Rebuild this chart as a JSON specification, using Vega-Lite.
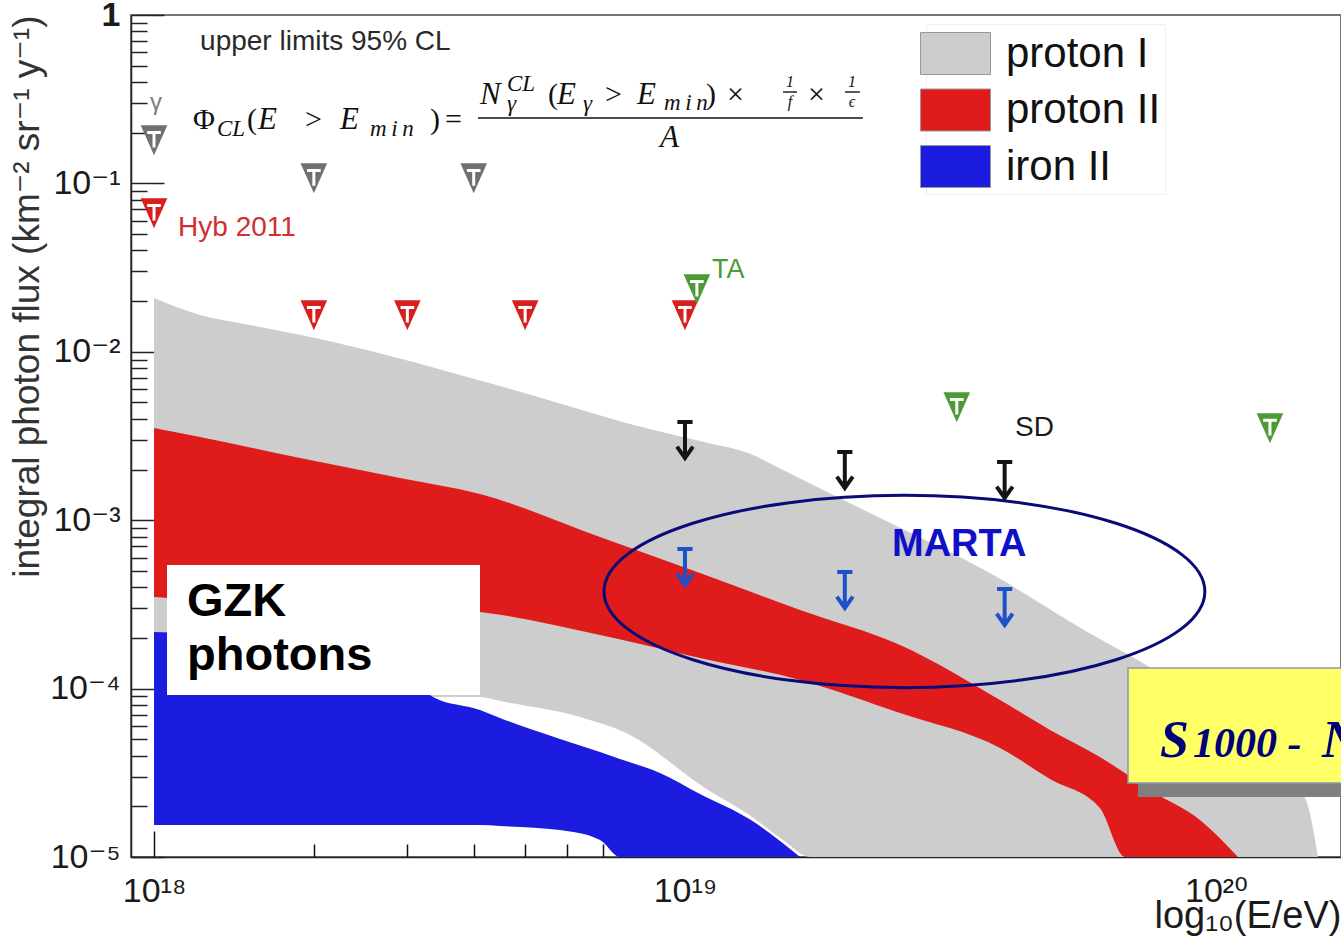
{
  "$schema": "https://vega.github.io/schema/vega-lite/v6.json",
  "width": 1210,
  "height": 842,
  "autosize": {"type": "none"},
  "padding": {"left": 131, "top": 15, "right": 0, "bottom": 95},
  "background": "white",
  "config": {
    "view": {"stroke": "#777777", "strokeWidth": 2},
    "font": "Liberation Sans"
  },
  "datasets": {
    "bands": [
      {"band": "proton I", "E": 1.0e18, "F": 0.02087, "F2": 8.91e-5},
      {"band": "proton I", "E": 1.221e18, "F": 0.01654, "F2": 8.91e-5},
      {"band": "proton I", "E": 1.516e18, "F": 0.01442, "F2": 8.91e-5},
      {"band": "proton I", "E": 2.174e18, "F": 0.01143, "F2": 8.91e-5},
      {"band": "proton I", "E": 3.128e18, "F": 0.00858, "F2": 8.91e-5},
      {"band": "proton I", "E": 4.111e18, "F": 0.00675, "F2": 8.91e-5},
      {"band": "proton I", "E": 4.483e18, "F": 0.00626, "F2": 8.44e-5},
      {"band": "proton I", "E": 6.344e18, "F": 0.004544, "F2": 6.78e-5},
      {"band": "proton I", "E": 7.743e18, "F": 0.003777, "F2": 5.45e-5},
      {"band": "proton I", "E": 1.105e19, "F": 0.002873, "F2": 2.5e-5},
      {"band": "proton I", "E": 1.314e19, "F": 0.002506, "F2": 1.8e-5},
      {"band": "proton I", "E": 1.53e19, "F": 0.001986, "F2": 1.26e-5},
      {"band": "proton I", "E": 1.72e19, "F": 0.001651, "F2": 1.0e-5},
      {"band": "proton I", "E": 2.23e19, "F": 0.001104, "F2": 1.0e-5},
      {"band": "proton I", "E": 3.869e19, "F": 0.00046, "F2": 1.0e-5},
      {"band": "proton I", "E": 5.641e19, "F": 0.000223, "F2": 1.0e-5},
      {"band": "proton I", "E": 7.383e19, "F": 0.000138, "F2": 1.0e-5},
      {"band": "proton I", "E": 1.159e20, "F": 4.95e-5, "F2": 1.0e-5},
      {"band": "proton I", "E": 1.477e20, "F": 2.18e-5, "F2": 1.0e-5},
      {"band": "proton I", "E": 1.556e20, "F": 1.0e-5, "F2": 1.0e-5},
      {"band": "proton II", "E": 1.0e18, "F": 3.528e-3, "F2": 3.499e-4},
      {"band": "proton II", "E": 1.221e18, "F": 3.12e-3, "F2": 3.358e-4},
      {"band": "proton II", "E": 1.884e18, "F": 2.341e-3, "F2": 3.223e-4},
      {"band": "proton II", "E": 2.906e18, "F": 1.78e-3, "F2": 3.051e-4},
      {"band": "proton II", "E": 4.111e18, "F": 1.43e-3, "F2": 2.85e-4},
      {"band": "proton II", "E": 6.918e18, "F": 7.948e-4, "F2": 2.081e-4},
      {"band": "proton II", "E": 1.067e19, "F": 4.859e-4, "F2": 1.52e-4},
      {"band": "proton II", "E": 1.647e19, "F": 2.929e-4, "F2": 1.125e-4},
      {"band": "proton II", "E": 2.541e19, "F": 1.815e-4, "F2": 7.16e-5},
      {"band": "proton II", "E": 3.92e19, "F": 8.56e-5, "F2": 4.44e-5},
      {"band": "proton II", "E": 4.869e19, "F": 5.68e-5, "F2": 2.905e-5},
      {"band": "proton II", "E": 6.045e19, "F": 3.925e-5, "F2": 1.954e-5},
      {"band": "proton II", "E": 6.74e19, "F": 3.153e-5, "F2": 1.0e-5},
      {"band": "proton II", "E": 7.512e19, "F": 2.5e-5, "F2": 1.0e-5},
      {"band": "proton II", "E": 9.331e19, "F": 1.658e-5, "F2": 1.0e-5},
      {"band": "proton II", "E": 1.1e20, "F": 1.0e-5, "F2": 1.0e-5},
      {"band": "iron II", "E": 1.0e18, "F": 2.168e-4, "F2": 1.549e-5},
      {"band": "iron II", "E": 1.221e18, "F": 2.11e-4, "F2": 1.549e-5},
      {"band": "iron II", "E": 1.884e18, "F": 1.815e-4, "F2": 1.549e-5},
      {"band": "iron II", "E": 2.906e18, "F": 1.326e-4, "F2": 1.549e-5},
      {"band": "iron II", "E": 3.353e18, "F": 8.91e-5, "F2": 1.549e-5},
      {"band": "iron II", "E": 4.111e18, "F": 7.46e-5, "F2": 1.549e-5},
      {"band": "iron II", "E": 4.483e18, "F": 6.69e-5, "F2": 1.528e-5},
      {"band": "iron II", "E": 5.815e18, "F": 5.02e-5, "F2": 1.446e-5},
      {"band": "iron II", "E": 6.918e18, "F": 4.2e-5, "F2": 1.262e-5},
      {"band": "iron II", "E": 7.543e18, "F": 3.82e-5, "F2": 1.0e-5},
      {"band": "iron II", "E": 8.972e18, "F": 3.153e-5, "F2": 1.0e-5},
      {"band": "iron II", "E": 1.067e19, "F": 2.366e-5, "F2": 1.0e-5},
      {"band": "iron II", "E": 1.331e19, "F": 1.658e-5, "F2": 1.0e-5},
      {"band": "iron II", "E": 1.647e19, "F": 1.0e-5, "F2": 1.0e-5}
    ],
    "limits": [
      {"set": "gray", "kind": "tri", "E": 1.0e18, "F": 0.181},
      {"set": "gray", "kind": "tri", "E": 2.0e18, "F": 0.1076},
      {"set": "gray", "kind": "tri", "E": 4.0e18, "F": 0.1076},
      {"set": "red", "kind": "tri", "E": 1.0e18, "F": 0.0667},
      {"set": "red", "kind": "tri", "E": 2.0e18, "F": 0.01654},
      {"set": "red", "kind": "tri", "E": 3.0e18, "F": 0.01654},
      {"set": "red", "kind": "tri", "E": 5.0e18, "F": 0.01654},
      {"set": "red", "kind": "tri", "E": 1.0e19, "F": 0.01654},
      {"set": "green", "kind": "tri", "E": 1.053e19, "F": 0.0236},
      {"set": "green", "kind": "tri", "E": 3.25e19, "F": 0.0047},
      {"set": "green", "kind": "tri", "E": 1.264e20, "F": 0.00353},
      {"set": "black", "kind": "arrow", "E": 1.0e19, "F": 0.002995},
      {"set": "black", "kind": "arrow", "E": 2.0e19, "F": 0.001986},
      {"set": "black", "kind": "arrow", "E": 4.0e19, "F": 0.001733},
      {"set": "blue", "kind": "arrow", "E": 1.0e19, "F": 0.000527},
      {"set": "blue", "kind": "arrow", "E": 2.0e19, "F": 0.000385},
      {"set": "blue", "kind": "arrow", "E": 4.0e19, "F": 0.000305}
    ]
  },
  "encoding": {
    "x": {
      "field": "E",
      "type": "quantitative",
      "scale": {"type": "log", "domain": [9.05e17, 1.72e20], "nice": false, "zero": false},
      "axis": {
        "values": [1e18, 2e18, 3e18, 4e18, 5e18, 6e18, 7e18, 8e18, 9e18, 1e19, 2e19, 3e19, 4e19, 5e19, 6e19, 7e19, 8e19, 9e19, 1e20],
        "labelExpr": "abs(log(datum.value)/LN10 - round(log(datum.value)/LN10)) < 0.001 ? (round(log(datum.value)/LN10) == 18 ? '10¹⁸' : round(log(datum.value)/LN10) == 19 ? '10¹⁹' : '10²⁰') : ''",
        "tickSize": {"condition": {"test": "abs(log(datum.value)/LN10 - round(log(datum.value)/LN10)) < 0.001", "value": -26}, "value": -13},
        "tickColor": "#111111",
        "tickWidth": 1.5,
        "domainColor": "#222222",
        "domainWidth": 1.5,
        "labelFontSize": 34,
        "labelPadding": 43,
        "labelColor": "#1a1a1a",
        "labelFont": "Liberation Sans, DejaVu Sans",
        "labelOverlap": false,
        "labelFlush": false,
        "grid": false,
        "title": "log₁₀(E/eV)",
        "titleAnchor": "end",
        "titleFont": "Liberation Sans, DejaVu Sans",
        "titleFontSize": 38,
        "titleFontWeight": "normal",
        "titleColor": "#1a1a1a",
        "titlePadding": -24
      }
    },
    "y": {
      "field": "F",
      "type": "quantitative",
      "scale": {"type": "log", "domain": [1e-5, 1], "nice": false},
      "axis": {
        "values": [1e-5, 2e-5, 3e-5, 4e-5, 5e-5, 6e-5, 7e-5, 8e-5, 9e-5, 0.0001, 0.0002, 0.0003, 0.0004, 0.0005, 0.0006, 0.0007, 0.0008, 0.0009, 0.001, 0.002, 0.003, 0.004, 0.005, 0.006, 0.007, 0.008, 0.009, 0.01, 0.02, 0.03, 0.04, 0.05, 0.06, 0.07, 0.08, 0.09, 0.1, 0.2, 0.3, 0.4, 0.5, 0.6, 0.7, 0.8, 0.9, 1],
        "labelExpr": "abs(log(datum.value)/LN10 - round(log(datum.value)/LN10)) < 0.001 ? (round(log(datum.value)/LN10) == 0 ? '1' : round(log(datum.value)/LN10) == -1 ? '10⁻¹' : round(log(datum.value)/LN10) == -2 ? '10⁻²' : round(log(datum.value)/LN10) == -3 ? '10⁻³' : round(log(datum.value)/LN10) == -4 ? '10⁻⁴' : '10⁻⁵') : ''",
        "tickSize": {"condition": {"test": "abs(log(datum.value)/LN10 - round(log(datum.value)/LN10)) < 0.001", "value": -33}, "value": -16},
        "tickColor": "#222222",
        "tickWidth": 1.5,
        "domainColor": "#222222",
        "domainWidth": 1.5,
        "labelFontSize": 34,
        "labelPadding": 44,
        "labelColor": "#1a1a1a",
        "labelFont": "Liberation Sans, DejaVu Sans",
        "labelFontWeight": {"condition": {"test": "datum.value == 1", "value": "bold"}, "value": "normal"},
        "labelOverlap": false,
        "labelFlush": false,
        "grid": false,
        "title": "integral photon flux (km⁻² sr⁻¹ y⁻¹)",
        "titleAnchor": "end",
        "titleFont": "Liberation Sans, DejaVu Sans",
        "titleFontSize": 37,
        "titleFontWeight": "normal",
        "titleColor": "#333333",
        "titlePadding": 3
      }
    }
  },
  "layer": [
    {
      "data": {"name": "bands"},
      "transform": [{"filter": "datum.band == 'proton I'"}],
      "mark": {"type": "area", "clip": true, "opacity": 1, "interpolate": "monotone"},
      "encoding": {
        "y2": {"field": "F2"},
        "color": {
          "field": "band", "type": "nominal",
          "scale": {"domain": ["proton I", "proton II", "iron II"], "range": ["#cdcdcd", "#e01b1b", "#1c1ce0"]},
          "legend": {"title": null, "orient": "none", "legendX": 795, "legendY": 9, "symbolType": "M-1.4,-0.84H1.4V0.84H-1.4Z", "symbolSize": 2500, "labelFontSize": 42, "labelFont": "Liberation Sans", "labelColor": "#111111", "rowPadding": 7.5, "padding": 4, "fillColor": "#ffffff", "strokeColor": "#f0f0f0", "labelOffset": 25, "symbolStrokeWidth": 1, "symbolStrokeColor": "#999999", "symbolOpacity": 1, "labelLimit": 400}
        }
      }
    },
    {
      "data": {"name": "bands"},
      "transform": [{"filter": "datum.band == 'proton II'"}],
      "mark": {"type": "area", "clip": true, "opacity": 1, "interpolate": "monotone"},
      "encoding": {
        "y2": {"field": "F2"},
        "color": {
          "field": "band", "type": "nominal",
          "scale": {"domain": ["proton I", "proton II", "iron II"], "range": ["#cdcdcd", "#e01b1b", "#1c1ce0"]},
          "legend": {"title": null, "orient": "none", "legendX": 795, "legendY": 9, "symbolType": "M-1.4,-0.84H1.4V0.84H-1.4Z", "symbolSize": 2500, "labelFontSize": 42, "labelFont": "Liberation Sans", "labelColor": "#111111", "rowPadding": 7.5, "padding": 4, "fillColor": "#ffffff", "strokeColor": "#f0f0f0", "labelOffset": 25, "symbolStrokeWidth": 1, "symbolStrokeColor": "#999999", "symbolOpacity": 1, "labelLimit": 400}
        }
      }
    },
    {
      "data": {"name": "bands"},
      "transform": [{"filter": "datum.band == 'iron II'"}],
      "mark": {"type": "area", "clip": true, "opacity": 1, "interpolate": "monotone"},
      "encoding": {
        "y2": {"field": "F2"},
        "color": {
          "field": "band", "type": "nominal",
          "scale": {"domain": ["proton I", "proton II", "iron II"], "range": ["#cdcdcd", "#e01b1b", "#1c1ce0"]},
          "legend": {"title": null, "orient": "none", "legendX": 795, "legendY": 9, "symbolType": "M-1.4,-0.84H1.4V0.84H-1.4Z", "symbolSize": 2500, "labelFontSize": 42, "labelFont": "Liberation Sans", "labelColor": "#111111", "rowPadding": 7.5, "padding": 4, "fillColor": "#ffffff", "strokeColor": "#f0f0f0", "labelOffset": 25, "symbolStrokeWidth": 1, "symbolStrokeColor": "#999999", "symbolOpacity": 1, "labelLimit": 400}
        }
      }
    },
    {
      "data": {"values": [{"E": 1.058e18, "E2": 4.111e18, "F": 5.42e-4, "F2": 9.16e-5}]},
      "mark": {"type": "rect", "fill": "#ffffff", "clip": true},
      "encoding": {"x2": {"field": "E2"}, "y2": {"field": "F2"}}
    },
    {
      "data": {"values": [{"E": 7.13e19, "E2": 3e20, "F": 1.0e-4, "F2": 2.27e-5}]},
      "mark": {"type": "rect", "fill": "#808080", "clip": true},
      "encoding": {"x2": {"field": "E2"}, "y2": {"field": "F2"}}
    },
    {
      "data": {"values": [{"E": 6.829e19, "E2": 3e20, "F": 1.325e-4, "F2": 2.75e-5}]},
      "mark": {"type": "rect", "fill": "#ffff66", "stroke": "#8899aa", "strokeWidth": 1.5, "clip": true},
      "encoding": {"x2": {"field": "E2"}, "y2": {"field": "F2"}}
    },
    {
      "data": {"values": [{"E": 2.59e19, "F": 3.772e-4}]},
      "mark": {"type": "point", "shape": "M-1,0A1,0.32,0,1,0,1,0A1,0.32,0,1,0,-1,0Z", "size": 361000, "filled": false, "stroke": "#0a0a78", "strokeWidth": 3, "opacity": 1}
    },
    {
      "data": {"name": "limits"},
      "transform": [{"filter": "datum.kind == 'tri'"}],
      "mark": {"type": "point", "filled": true, "shape": "M-0.7,-0.78L0.7,-0.78L0,0.8Z", "size": 1444, "opacity": 1, "strokeWidth": 0},
      "encoding": {
        "fill": {"field": "set", "type": "nominal", "scale": {"domain": ["gray", "red", "green"], "range": ["#707070", "#d71f1f", "#4c9b35"]}, "legend": null}
      }
    },
    {
      "data": {"name": "limits"},
      "transform": [{"filter": "datum.kind == 'tri'"}],
      "mark": {"type": "point", "filled": false, "shape": "M-0.36,-0.4L0.36,-0.4 M0,-0.4L0,0.4", "size": 1444, "opacity": 1, "stroke": "#ffffff", "strokeWidth": 3}
    },
    {
      "data": {"name": "limits"},
      "transform": [{"filter": "datum.kind == 'arrow'"}],
      "mark": {"type": "point", "filled": false, "shape": "M-0.4,-0.95L0.4,-0.95 M0,-0.95L0,0.95 M-0.42,0.35L0,0.95L0.42,0.35", "size": 1444, "opacity": 1, "strokeWidth": 4},
      "encoding": {
        "stroke": {"field": "set", "type": "nominal", "scale": {"domain": ["black", "blue"], "range": ["#151515", "#1f50cc"]}, "legend": null}
      }
    },
    {
      "data": {"values": [{"t": "upper limits 95% CL", "E": 1.221e18, "F": 0.691}]},
      "mark": {"type": "text", "align": "left", "baseline": "middle", "fontSize": 28, "font": "Liberation Sans", "color": "#2a2a2a"},
      "encoding": {"text": {"field": "t"}}
    },
    {
      "data": {"values": [{"t": "Hyb 2011", "E": 1.11e18, "F": 0.0543}]},
      "mark": {"type": "text", "align": "left", "baseline": "middle", "fontSize": 28, "font": "Liberation Sans", "color": "#d03030"},
      "encoding": {"text": {"field": "t"}}
    },
    {
      "data": {"values": [{"t": "TA", "E": 1.124e19, "F": 0.0306}]},
      "mark": {"type": "text", "align": "left", "baseline": "middle", "fontSize": 27, "font": "Liberation Sans", "color": "#4c9b35"},
      "encoding": {"text": {"field": "t"}}
    },
    {
      "data": {"values": [{"t": "SD", "E": 4.183e19, "F": 0.00353}]},
      "mark": {"type": "text", "align": "left", "baseline": "middle", "fontSize": 28, "font": "Liberation Sans", "color": "#1a1a1a"},
      "encoding": {"text": {"field": "t"}}
    },
    {
      "data": {"values": [{"t": "γ", "E": 9.83e17, "F": 0.3}]},
      "mark": {"type": "text", "align": "left", "baseline": "middle", "fontSize": 24, "font": "Liberation Sans", "color": "#808080"},
      "encoding": {"text": {"field": "t"}}
    },
    {
      "data": {"values": [{"t": "MARTA", "E": 2.454e19, "F": 7.12e-4}]},
      "mark": {"type": "text", "align": "left", "baseline": "middle", "fontSize": 38, "fontWeight": "bold", "font": "Liberation Sans", "color": "#1010c8"},
      "encoding": {"text": {"field": "t"}}
    },
    {
      "data": {"values": [{"t": "GZK", "E": 1.154e18, "F": 3.27e-4}, {"t": "photons", "E": 1.154e18, "F": 1.561e-4}]},
      "mark": {"type": "text", "align": "left", "baseline": "middle", "fontSize": 47, "fontWeight": "bold", "font": "Liberation Sans", "color": "#000000"},
      "encoding": {"text": {"field": "t"}}
    },
    {
      "data": {"values": [
        {"t": "E", "E": 1.57e18, "F": 0.2379},
        {"t": "E", "E": 2.24e18, "F": 0.2379},
        {"t": "N", "E": 4.111e18, "F": 0.3349},
        {"t": "E", "E": 5.741e18, "F": 0.3349},
        {"t": "E", "E": 8.122e18, "F": 0.3349},
        {"t": "A", "E": 8.974e18, "F": 0.1861}
      ]},
      "mark": {"type": "text", "align": "left", "baseline": "middle", "fontSize": 31, "fontStyle": "italic", "font": "Liberation Serif", "color": "#111111"},
      "encoding": {"text": {"field": "t"}}
    },
    {
      "data": {"values": [
        {"t": "Φ", "E": 1.184e18, "F": 0.2379},
        {"t": "(", "E": 1.497e18, "F": 0.2379},
        {"t": ">", "E": 1.925e18, "F": 0.2379},
        {"t": ")", "E": 3.31e18, "F": 0.2379},
        {"t": "=", "E": 3.532e18, "F": 0.2379},
        {"t": "(", "E": 5.521e18, "F": 0.3349},
        {"t": ">", "E": 7.069e18, "F": 0.3349},
        {"t": ")", "E": 1.095e19, "F": 0.3349},
        {"t": "×", "E": 1.2e19, "F": 0.3349},
        {"t": "×", "E": 1.704e19, "F": 0.3349}
      ]},
      "mark": {"type": "text", "align": "left", "baseline": "middle", "fontSize": 30, "font": "Liberation Serif", "color": "#111111"},
      "encoding": {"text": {"field": "t"}}
    },
    {
      "data": {"values": [
        {"t": "CL", "E": 1.314e18, "F": 0.2104},
        {"t": "m\u2009i\u2009n", "E": 2.551e18, "F": 0.2104},
        {"t": "CL", "E": 4.622e18, "F": 0.3894},
        {"t": "γ", "E": 4.622e18, "F": 0.2962},
        {"t": "γ", "E": 6.427e18, "F": 0.2962},
        {"t": "m\u2009i\u2009n", "E": 9.13e18, "F": 0.3002}
      ]},
      "mark": {"type": "text", "align": "left", "baseline": "middle", "fontSize": 23, "fontStyle": "italic", "font": "Liberation Serif", "color": "#111111"},
      "encoding": {"text": {"field": "t"}}
    },
    {
      "data": {"values": [
        {"t": "1", "E": 1.577e19, "F": 0.4},
        {"t": "f", "E": 1.577e19, "F": 0.3043},
        {"t": "1", "E": 2.063e19, "F": 0.4},
        {"t": "ϵ", "E": 2.063e19, "F": 0.3043}
      ]},
      "mark": {"type": "text", "align": "center", "baseline": "middle", "fontSize": 16, "fontStyle": "italic", "font": "Liberation Serif", "color": "#111111"},
      "encoding": {"text": {"field": "t"}}
    },
    {
      "data": {"values": [
        {"E": 4.076e18, "E2": 2.163e19, "F": 0.2445},
        {"E": 1.53e19, "E2": 1.625e19, "F": 0.3489},
        {"E": 2.001e19, "E2": 2.135e19, "F": 0.3489}
      ]},
      "mark": {"type": "rule", "color": "#111111", "strokeWidth": 1.4},
      "encoding": {"x2": {"field": "E2"}}
    },
    {
      "data": {"values": [{"t": "S", "E": 7.846e19, "F": 3.925e-5}, {"t": "N", "E": 1.584e20, "F": 3.925e-5}]},
      "mark": {"type": "text", "align": "left", "baseline": "alphabetic", "fontSize": 52, "fontStyle": "italic", "fontWeight": "bold", "font": "Liberation Serif", "color": "#00007a"},
      "encoding": {"text": {"field": "t"}}
    },
    {
      "data": {"values": [{"t": "1000 -", "E": 9.05e19, "F": 3.925e-5}]},
      "mark": {"type": "text", "align": "left", "baseline": "alphabetic", "fontSize": 42, "fontStyle": "italic", "fontWeight": "bold", "font": "Liberation Serif", "color": "#00007a"},
      "encoding": {"text": {"field": "t"}}
    }
  ]
}
